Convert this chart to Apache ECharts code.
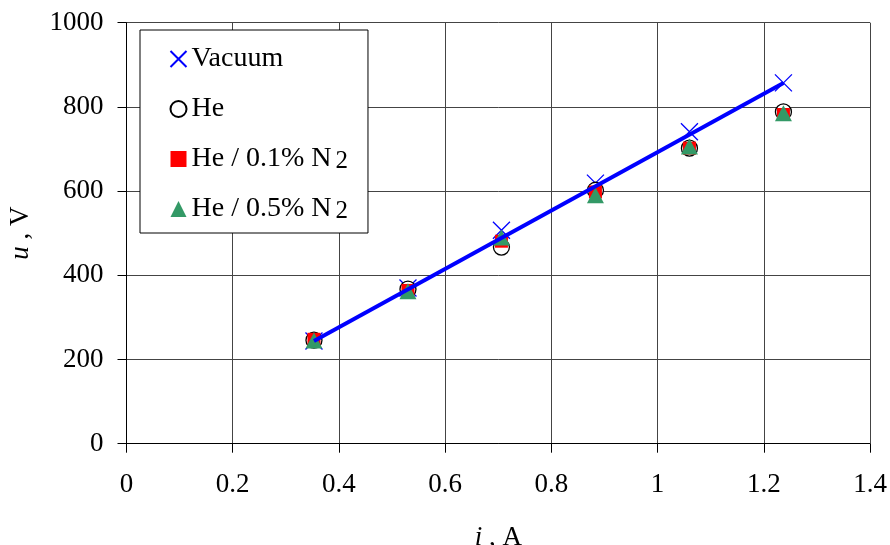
<!DOCTYPE html>
<html>
<head>
<meta charset="utf-8">
<script src="https://cdn.jsdelivr.net/npm/echarts@6/dist/echarts.min.js"></script>
<style>
  html, body { margin: 0; padding: 0; background: #fff; }
  #chart { width: 890px; height: 545px; }
</style>
</head>
<body>
<div id="chart"></div>
<script>
// current i (A) for each measurement
const current = [0.353, 0.530, 0.706, 0.883, 1.060, 1.237];
// voltage u (V) per gas
const vacuum = [244, 370, 507, 619, 741, 857];
const helium = [246, 367, 467, 602, 702, 788];
const he01N2 = [248, 364, 481, 598, 702, 782];
const he05N2 = [245, 362, 490, 590, 706, 785];
// fitted line through vacuum points (end points)
const fitX = [0.353, 1.237];
const fitY = [244, 857];

const xTicks = ['0', '0.2', '0.4', '0.6', '0.8', '1', '1.2', '1.4'];
const yTicks = ['0', '200', '400', '600', '800', '1000'];

const serif = 'Liberation Serif';
const crossPath = 'path://M0,0L10,10M10,0L0,10';

function pairs(xs, ys) {
  return xs.map((x, i) => [x, ys[i]]);
}

const chart = echarts.init(document.getElementById('chart'));

chart.setOption({
  animation: false,
  backgroundColor: '#fff',
  grid: {
    left: 126.5, right: 20, top: 22.7, bottom: 101.3,
    containLabel: false,
    outerBoundsMode: 'none'
  },
  legend: {
    orient: 'vertical',
    left: 140,
    top: 30,
    padding: [14, 20, 9, 28],
    itemGap: 20,
    itemWidth: 16,
    itemHeight: 16,
    backgroundColor: '#fff',
    borderColor: '#000',
    borderWidth: 1,
    borderRadius: 0,
    data: ['Vacuum', 'He', 'He / 0.1% N2', 'He / 0.5% N2'],
    formatter: function (name) {
      return name.replace('N2', 'N{sub|2}');
    },
    textStyle: {
      fontFamily: serif,
      fontSize: 28,
      color: '#000',
      lineHeight: 30,
      rich: {
        sub: { fontFamily: serif, fontSize: 25, color: '#000', padding: [4, 0, 0, 4] }
      }
    }
  },
  xAxis: {
    type: 'value',
    min: 0,
    max: 1.4,
    interval: 0.2,
    name: '{it|i} , A',
    nameLocation: 'middle',
    nameGap: 81,
    nameTextStyle: {
      fontFamily: serif, fontSize: 27, color: '#000',
      rich: { it: { fontFamily: serif, fontStyle: 'italic', fontSize: 27, color: '#000' } }
    },
    axisLine: { onZero: false, lineStyle: { color: '#000', width: 1 } },
    axisTick: { show: true, inside: false, length: 9, lineStyle: { color: '#000' } },
    axisLabel: {
      margin: 28,
      fontFamily: serif, fontSize: 27, color: '#000',
      formatter: function (v) { return xTicks[Math.round(v / 0.2)]; }
    },
    splitLine: { show: true, lineStyle: { color: '#444', width: 1 } }
  },
  yAxis: {
    type: 'value',
    min: 0,
    max: 1000,
    interval: 200,
    name: '{it|u} , V',
    nameLocation: 'middle',
    nameGap: 92,
    nameRotate: 90,
    nameTextStyle: {
      fontFamily: serif, fontSize: 27, color: '#000',
      rich: { it: { fontFamily: serif, fontStyle: 'italic', fontSize: 27, color: '#000' } }
    },
    axisLine: { show: true, lineStyle: { color: '#000', width: 1 } },
    axisTick: { show: true, inside: false, length: 9, lineStyle: { color: '#000' } },
    axisLabel: {
      margin: 23, fontFamily: serif, fontSize: 27, color: '#000',
      formatter: function (v) { return yTicks[Math.round(v / 200)]; }
    },
    splitLine: { show: true, lineStyle: { color: '#444', width: 1 } }
  },
  series: [
    {
      name: 'Vacuum',
      type: 'scatter',
      symbol: crossPath,
      symbolSize: 17,
      itemStyle: { color: 'none', borderColor: '#0000ff', borderWidth: 1.3, opacity: 1 },
      data: pairs(current, vacuum),
      z: 2
    },
    {
      name: 'He',
      type: 'scatter',
      symbol: 'circle',
      symbolSize: 16,
      itemStyle: { color: '#fff', borderColor: '#000', borderWidth: 1.3, opacity: 1 },
      data: pairs(current, helium),
      z: 3
    },
    {
      name: 'He / 0.1% N2',
      type: 'scatter',
      symbol: 'rect',
      symbolSize: 13,
      itemStyle: { color: '#ff0000', opacity: 1 },
      data: pairs(current, he01N2),
      z: 4
    },
    {
      name: 'He / 0.5% N2',
      type: 'scatter',
      symbol: 'triangle',
      symbolSize: [17, 16],
      itemStyle: { color: '#339966', opacity: 1 },
      data: pairs(current, he05N2),
      z: 5
    },
    {
      name: 'fit',
      type: 'line',
      showSymbol: false,
      symbol: 'none',
      lineStyle: { color: '#0000ff', width: 4 },
      data: pairs(fitX, fitY),
      z: 6
    }
  ]
});
</script>
</body>
</html>
